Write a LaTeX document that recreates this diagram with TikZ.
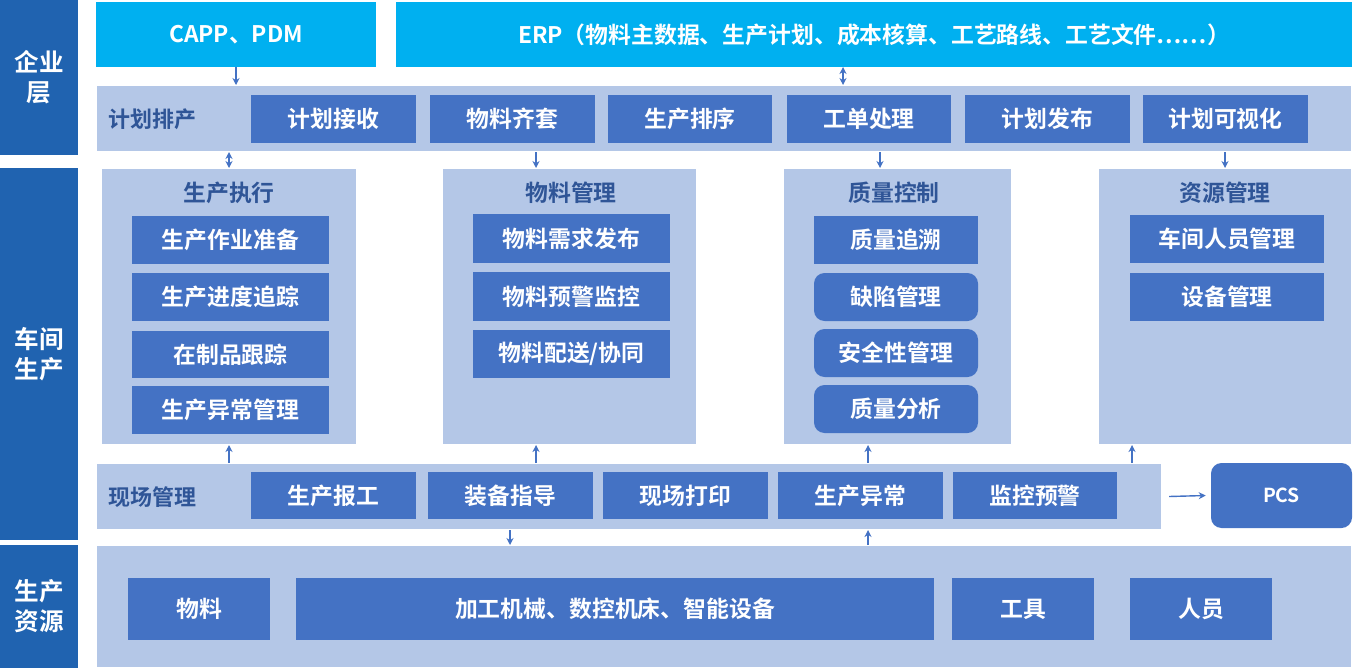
\documentclass[tikz,border=0pt]{standalone}
\usepackage{fontspec}
\setmainfont{Noto Sans CJK SC}[BoldFont={* Bold}]
\newfontfamily\cjkb{Noto Sans CJK SC Bold}
\usetikzlibrary{arrows.meta}
\definecolor{side}{HTML}{2063B0}
\definecolor{cyanb}{HTML}{00B0F0}
\definecolor{band}{HTML}{B4C7E7}
\definecolor{boxb}{HTML}{4472C4}
\definecolor{ttl}{HTML}{2F5597}
\tikzset{
 box/.style={fill=boxb,text=white,font=\cjkb\fontsize{13}{15}\selectfont,inner sep=0pt,outer sep=0pt},
 bandst/.style={fill=band,draw=white,line width=1pt,inner sep=0pt,outer sep=0pt},
 sidest/.style={fill=side,text=white,font=\cjkb\fontsize{14}{17}\selectfont,align=center,inner sep=0pt,outer sep=0pt},
 topst/.style={fill=cyanb,text=white,font=\cjkb\fontsize{13}{15}\selectfont,inner sep=0pt,outer sep=0pt},
 rbox/.style={box,rounded corners=6pt},
 ttlst/.style={text=ttl,font=\cjkb\fontsize{12.5}{15}\selectfont,inner sep=0pt},
 ptitle/.style={text=ttl,font=\cjkb\fontsize{13}{15}\selectfont,inner sep=0pt},
 arr/.style={draw=boxb,line width=0.8pt,-{Stealth[length=4pt,width=4pt]}},
 darr/.style={draw=boxb,line width=0.8pt,{Stealth[length=4pt,width=4pt]}-{Stealth[length=4pt,width=4pt]}}
}
\newcommand\bx[7][box]{\node[#1,minimum width={(#5-#3)*0.02cm},minimum height={(#6-#4)*0.02cm}] (#2) at ({(#3+#5)/2},{(#4+#6)/2}) {#7};}
\begin{document}
\begin{tikzpicture}[x=0.02cm,y=-0.02cm]
\useasboundingbox (0,0) rectangle (1354,670);
% side
\bx[sidest]{s1}{0}{0}{78}{155}{企业\\层}
\bx[sidest]{s2}{0}{168}{78}{540}{车间\\生产}
\bx[sidest]{s3}{0}{545}{78}{668}{生产\\资源}
% top
\bx[topst]{capp}{96}{2}{376}{67}{CAPP、PDM}
\bx[topst]{erp}{396}{2}{1352}{67}{ERP（物料主数据、生产计划、成本核算、工艺路线、工艺文件……）}
% plan band
\bx[bandst]{plan}{96}{85}{1352}{152}{}
\node[ttlst,anchor=west] (plant) at (108,119) {计划排产};
\bx{p1}{251}{95}{416}{143}{计划接收}
\bx{p2}{430}{95}{595}{143}{物料齐套}
\bx{p3}{608}{95}{772}{143}{生产排序}
\bx{p4}{787}{95}{951}{143}{工单处理}
\bx{p5}{965}{95}{1130}{143}{计划发布}
\bx{p6}{1143}{95}{1308}{143}{计划可视化}
% panels
\bx[bandst]{e}{101}{168}{357}{445}{}
\node[ptitle] (et) at (229,193) {生产执行};
\bx{e1}{132}{216}{329}{264}{生产作业准备}
\bx{e2}{132}{273}{329}{321}{生产进度追踪}
\bx{e3}{132}{331}{329}{378}{在制品跟踪}
\bx{e4}{132}{386}{329}{434}{生产异常管理}
\bx[bandst]{m}{442}{168}{697}{445}{}
\node[ptitle] (mt) at (571,193) {物料管理};
\bx{m1}{473}{214}{670}{263}{物料需求发布}
\bx{m2}{473}{272}{670}{321}{物料预警监控}
\bx{m3}{473}{330}{670}{378}{物料配送/协同}
\bx[bandst]{q}{783}{168}{1012}{445}{}
\node[ptitle] (qt) at (894,193) {质量控制};
\bx{q1}{814}{216}{978}{264}{质量追溯}
\bx[rbox]{q2}{814}{273}{978}{321}{缺陷管理}
\bx[rbox]{q3}{814}{329}{978}{377}{安全性管理}
\bx[rbox]{q4}{814}{385}{978}{433}{质量分析}
\bx[bandst]{r}{1098}{168}{1352}{445}{}
\node[ptitle] (rt) at (1225,193) {资源管理};
\bx{r1}{1130}{215}{1324}{263}{车间人员管理}
\bx{r2}{1130}{273}{1324}{321}{设备管理}
% field band
\bx[bandst]{f}{96}{463}{1162}{530}{}
\node[ttlst,anchor=west] (ft) at (108,497) {现场管理};
\bx{f1}{251}{472}{416}{519}{生产报工}
\bx{f2}{428}{472}{593}{519}{装备指导}
\bx{f3}{603}{472}{768}{519}{现场打印}
\bx{f4}{778}{472}{943}{519}{生产异常}
\bx{f5}{953}{472}{1117}{519}{监控预警}
\bx[rbox]{pcs}{1211}{463}{1352}{528}{\fontsize{11}{13}\selectfont PCS}
% resources
\bx[bandst]{b}{96}{545}{1352}{668}{}
\bx{b1}{128}{578}{270}{640}{物料}
\bx{b2}{296}{578}{934}{640}{加工机械、数控机床、智能设备}
\bx{b3}{952}{578}{1094}{640}{工具}
\bx{b4}{1130}{578}{1272}{640}{人员}
% coordinates
\coordinate (x843) at (843,0);
\coordinate (x536) at (536,0);
\coordinate (x880) at (880,0);
\coordinate (x868) at (868,0);
\coordinate (x1132) at (1132,0);
\coordinate (x510) at (510,0);
\coordinate (x1225) at (1225,0);
% arrows
\draw[arr] (capp.south) -- (capp.south |- plan.north);
\draw[darr] (erp.south -| x843) -- (plan.north -| x843);
\draw[darr] (plan.south -| et) -- (e.north -| et);
\draw[arr] (plan.south -| x536) -- (m.north -| x536);
\draw[arr] (plan.south -| x880) -- (q.north -| x880);
\draw[arr] (plan.south -| x1225) -- (r.north -| x1225);
\draw[arr] (f.north -| et) -- (e.south -| et);
\draw[arr] (f.north -| x536) -- (m.south -| x536);
\draw[arr] (f.north -| x868) -- (q.south -| x868);
\draw[arr] (f.north -| x1132) -- (r.south -| x1132);
\draw[arr] (f.south -| x510) -- (b.north -| x510);
\draw[arr] (b.north -| x868) -- (f.south -| x868);
\draw[arr] ([xshift=4pt]f.east) -- ([xshift=-3pt]pcs.west);
\end{tikzpicture}
\end{document}
